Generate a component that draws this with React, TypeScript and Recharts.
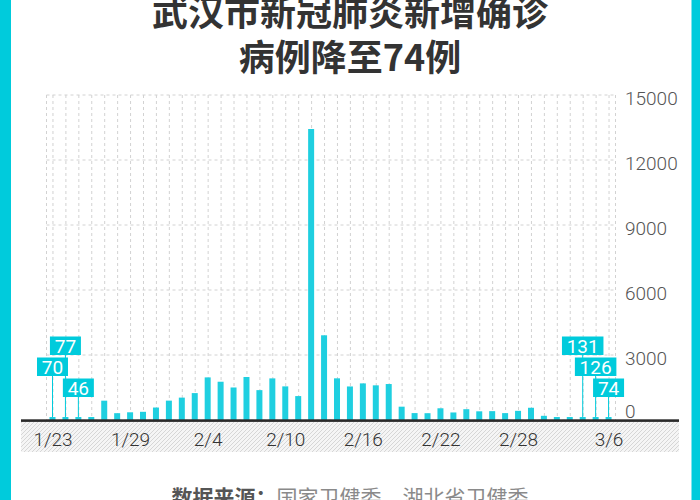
import React from "react";
import { BarChart, Bar, XAxis, YAxis, CartesianGrid, LabelList } from "recharts";

// 武汉市每日新增确诊 (1/23 - 3/6)
const dates = [
  "1/23", "1/24", "1/25", "1/26", "1/27", "1/28", "1/29", "1/30", "1/31",
  "2/1", "2/2", "2/3", "2/4", "2/5", "2/6", "2/7", "2/8", "2/9", "2/10",
  "2/11", "2/12", "2/13", "2/14", "2/15", "2/16", "2/17", "2/18", "2/19", "2/20",
  "2/21", "2/22", "2/23", "2/24", "2/25", "2/26", "2/27", "2/28", "2/29",
  "3/1", "3/2", "3/3", "3/4", "3/5", "3/6",
];
const newCases = [
  70, 77, 46, 80, 892, 315, 356, 378, 576,
  894, 1033, 1242, 1967, 1766, 1501, 1985, 1379, 1921, 1552,
  1104, 13436, 3910, 1923, 1548, 1690, 1600, 1660, 615, 319,
  314, 541, 348, 499, 401, 409, 318, 423, 565,
  193, 111, 114, 131, 126, 74,
];
const tickDates = ["1/23", "1/29", "2/4", "2/10", "2/16", "2/22", "2/28", "3/6"];
const yTicks = [0, 3000, 6000, 9000, 12000, 15000];
// callout boxes: 0 = top row, 2 = bottom row
const calloutDates = ["1/23", "1/24", "1/25", "3/4", "3/5", "3/6"];
const calloutTiers = [1, 0, 2, 0, 1, 2];

const CYAN = "#00cbdc";
const BAR = "#1fcfe0";
const NUM_FONT = "Roboto, 'Noto Sans', sans-serif";

const data = dates.map((date, i) => ({ date, value: newCases[i] }));

function XTick({ x, y, payload }: any) {
  if (!tickDates.includes(payload.value)) return null;
  return (
    <text x={x} y={y + 19} textAnchor="middle" dominantBaseline="central"
      fontSize={19} fontFamily={NUM_FONT} fontWeight={300} fill="#333">
      {payload.value}
    </text>
  );
}

function YTick({ x, y, payload }: any) {
  const dy = payload.value === 0 ? -9 : 3;
  return (
    <text x={x + 9.5} y={y + dy} textAnchor="start" dominantBaseline="central"
      fontSize={19} fontFamily={NUM_FONT} fontWeight={300} fill="#555">
      {payload.value}
    </text>
  );
}

function Callout(props: any) {
  const { index } = props;
  const k = calloutDates.indexOf(dates[index]);
  if (k < 0) return null;
  const vb = props.viewBox && props.viewBox.width != null ? props.viewBox : props;
  const cx = vb.x + vb.width / 2;
  const base = vb.y + vb.height;
  const boxBottom = base - 23 - 21 * (2 - calloutTiers[k]);
  const label = String(newCases[index]);
  const bw = label.length * 10.5 + 10;
  const bh = 18.5;
  return (
    <g>
      <line x1={cx} x2={cx} y1={boxBottom} y2={vb.y} stroke={CYAN} strokeWidth={1} />
      <rect x={cx - bw / 2} y={boxBottom - bh} width={bw} height={bh} fill={CYAN} />
      <text x={cx} y={boxBottom - bh / 2 + 0.5} textAnchor="middle" dominantBaseline="central"
        fontSize={19} fontFamily={NUM_FONT} fill="#fff">
        {label}
      </text>
    </g>
  );
}

export default function App() {
  return (
    <div style={{ position: "absolute", left: 0, top: 0, width: 700, height: 500, background: "#fff", overflow: "hidden", fontFamily: "'Noto Sans CJK SC', sans-serif" }}>
      <svg width={700} height={500} style={{ position: "absolute", left: 0, top: 0 }}>
        <defs>
          <pattern id="hatch" patternUnits="userSpaceOnUse" width={4} height={4}>
            <rect width={4} height={4} fill="#f5f5f5" />
            <path d="M-1,1 l2,-2 M0,4 l4,-4 M3,5 l2,-2" stroke="#d6d6d6" strokeWidth={1} />
          </pattern>
        </defs>
        <rect x={21} y={421} width={658} height={31} fill="url(#hatch)" />
        <rect x={0} y={0} width={11} height={500} fill={CYAN} />
        <rect x={691.5} y={0} width={8.5} height={500} fill={CYAN} />
      </svg>

      <div style={{ position: "absolute", left: 0, top: -12.5, width: 700, textAlign: "center", fontSize: 36, lineHeight: "45px", fontWeight: 700, color: "#333" }}>
        武汉市新冠肺炎新增确诊<br />病例降至74例
      </div>

      <div style={{ position: "absolute", left: 0, top: 0 }}>
        <BarChart width={700} height={500} data={data} margin={{ top: 95, right: 14.5, bottom: 50, left: 46.5 }}>
          <CartesianGrid strokeDasharray="3 3" stroke="#d2d2d2" />
          <XAxis dataKey="date" interval={0} axisLine={false} tickLine={false} tickSize={0} tickMargin={0} height={30} tick={<XTick />} />
          <YAxis orientation="right" domain={[0, 15000]} ticks={yTicks} axisLine={false} tickLine={false} tickSize={0} tickMargin={0} width={70} tick={<YTick />} />
          <Bar dataKey="value" fill={BAR} barSize={6} minPointSize={3} isAnimationActive={false}>
            <LabelList dataKey="value" content={<Callout />} />
          </Bar>
        </BarChart>
      </div>

      <svg width={700} height={500} style={{ position: "absolute", left: 0, top: 0, pointerEvents: "none" }}>
        <rect x={21} y={419.3} width={658} height={2.6} fill="#2b2b2b" />
      </svg>

      <div style={{ position: "absolute", left: 0, top: 486, width: 700, textAlign: "center", fontSize: 21, lineHeight: "21px", whiteSpace: "nowrap" }}>
        <span style={{ fontWeight: 700, color: "#555" }}>数据来源：</span>
        <span style={{ color: "#8a8a8a" }}>国家卫健委、湖北省卫健委</span>
      </div>
    </div>
  );
}
